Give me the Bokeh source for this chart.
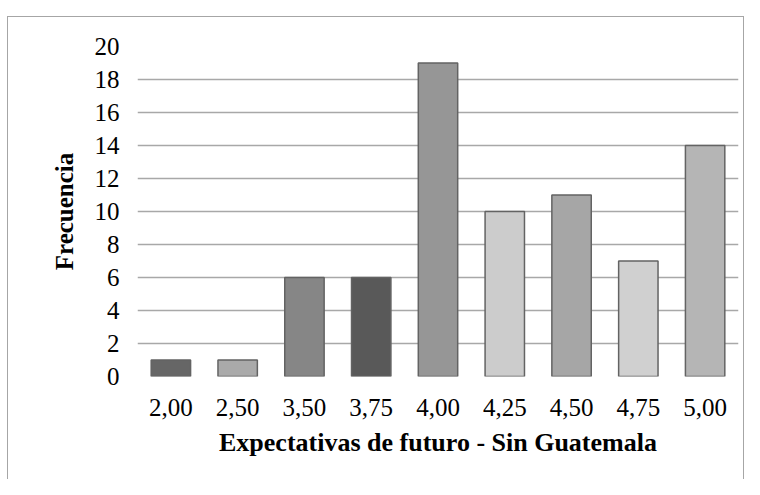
from bokeh.plotting import figure
from bokeh.models import FactorRange, ColumnDataSource, Range1d, FixedTicker
from bokeh.embed import file_html
from bokeh.resources import INLINE

categories = ["2,00", "2,50", "3,50", "3,75", "4,00", "4,25", "4,50", "4,75", "5,00"]
frecuencia = [1, 1, 6, 6, 19, 10, 11, 7, 14]
bar_colors = ["#666666", "#aaaaaa", "#868686", "#595959", "#969696",
              "#cccccc", "#a6a6a6", "#d0d0d0", "#b5b5b5"]
y_ticks = [0, 2, 4, 6, 8, 10, 12, 14, 16, 18, 20]

source = ColumnDataSource(dict(x=categories, top=frecuencia, color=bar_colors))

p = figure(width=744, height=479, output_backend="svg", toolbar_location=None,
           x_range=FactorRange(factors=categories, range_padding=0),
           y_range=Range1d(0, 20),
           min_border_left=137, min_border_right=6, min_border_top=46, min_border_bottom=103)
p.border_fill_alpha = 0
line = "linear-gradient(#a6a6a6,#a6a6a6)"
p.styles = {"background": (
    f"{line} 7px 16px / 1px calc(100% - 16px) no-repeat, "
    f"{line} 7px 16px / calc(100% - 8px) 1px no-repeat, "
    f"{line} right 0px top 16px / 1px calc(100% - 16px) no-repeat, #ffffff")}

p.vbar(x="x", top="top", width=0.59, source=source, fill_color="color",
       line_color="#636363", line_width=1.5)

p.outline_line_color = None
p.xgrid.grid_line_color = None
p.ygrid.grid_line_color = "#a8a8a8"
p.ygrid.grid_line_width = 1.5
p.yaxis.ticker = FixedTicker(ticks=y_ticks)

for ax in (p.xaxis[0], p.yaxis[0]):
    ax.axis_line_color = None
    ax.major_tick_line_color = None
    ax.minor_tick_line_color = None
    ax.major_tick_out = 0
    ax.major_tick_in = 0
    ax.minor_tick_out = 0
    ax.major_label_text_font = "Liberation Serif"
    ax.major_label_text_font_size = "25px"
    ax.major_label_text_color = "#000000"
    ax.axis_label_text_font = "Liberation Serif"
    ax.axis_label_text_font_style = "bold"
    ax.axis_label_text_color = "#000000"

p.xaxis.axis_label = "Expectativas de futuro - Sin Guatemala"
p.yaxis.axis_label = "Frecuencia"
p.xaxis.axis_label_text_font_size = "26px"
p.yaxis.axis_label_text_font_size = "25px"
p.xaxis.major_label_standoff = 22
p.xaxis.axis_label_standoff = 9
p.yaxis.major_label_standoff = 18
p.yaxis.axis_label_standoff = 14

open("out.html", "w").write(file_html(p, INLINE))
